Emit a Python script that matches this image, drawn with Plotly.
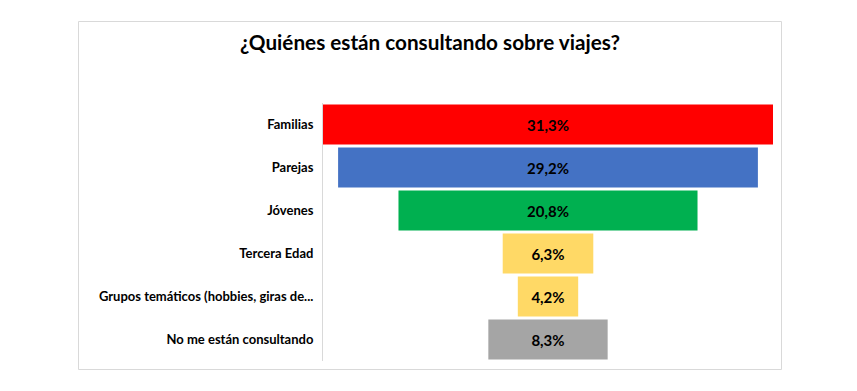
import plotly.graph_objects as go

categories = ["Familias", "Parejas", "Jóvenes", "Tercera Edad",
              "Grupos temáticos (hobbies, giras de...", "No me están consultando"]
values = [31.3, 29.2, 20.8, 6.3, 4.2, 8.3]
colors = ["#FF0000", "#4472C4", "#00B050", "#FFD966", "#FFD966", "#A5A5A5"]
title = "¿Quiénes están consultando sobre viajes?"

FONT = "Lato"
OFF = 8  # page body margin

W, H = 857 - 2 * OFF, 391 - 2 * OFF
# target positions in window pixels
PL, PR, PT, PB = 323, 773, 103, 361
L, R, T = PL - OFF, W - (PR - OFF), PT - OFF
B = H - (PB - OFF)
pw, ph = W - L - R, H - T - B

def px(x):
    return (x - OFF - L) / pw

def py(y):
    return (H - B - (y - OFF)) / ph

fig = go.Figure(go.Funnel(
    y=categories,
    x=values,
    marker=dict(color=colors, line=dict(width=0)),
    connector=dict(visible=False),
    texttemplate="%{x:.1f}%",
    textposition="inside",
    insidetextanchor="middle",
    textfont=dict(family=FONT, size=15, color="black", weight="bold"),
    constraintext="none",
))

fig.update_layout(
    width=W, height=H,
    margin=dict(l=L, r=R, t=T, b=B, autoexpand=False),
    paper_bgcolor="white", plot_bgcolor="white",
    separators=",.",
    showlegend=False,
    funnelgap=0.07,
    title=dict(text=title, x=(430 - OFF) / W, xref="container", xanchor="center",
               y=1 - (43 - OFF) / H, yanchor="middle",
               font=dict(family=FONT, size=20.7, color="black", weight="bold")),
    xaxis=dict(range=[-max(values) / 2, max(values) / 2], visible=False),
    yaxis=dict(showline=True, linecolor="#D9D9D9", linewidth=1,
               tickfont=dict(family=FONT, size=13, color="black", weight="bold"),
               ticks="", ticklabelstandoff=6, autorange="reversed"),
    shapes=[dict(type="rect", xref="paper", yref="paper",
                 x0=px(78.5), x1=px(781.5), y0=py(369.5), y1=py(21.5),
                 line=dict(color="#D9D9D9", width=1), fillcolor="rgba(0,0,0,0)",
                 layer="below")],
)

fig.write_html("out.html")
